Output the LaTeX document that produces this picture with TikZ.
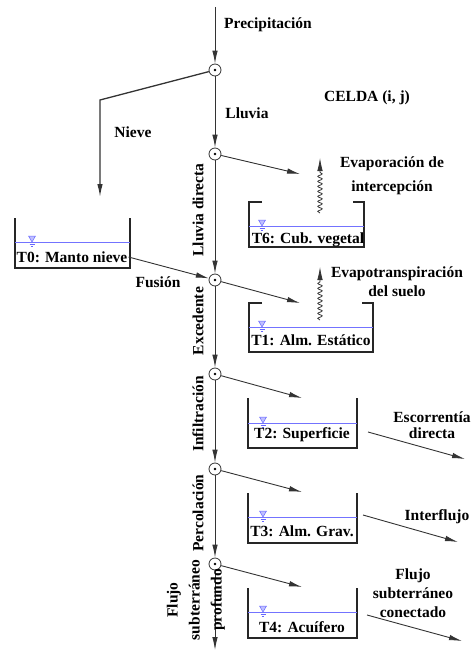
\documentclass[tikz,border=0pt]{standalone}
\usepackage{fontspec}
\setmainfont{Liberation Serif}
\usetikzlibrary{arrows.meta,decorations.pathmorphing}

\begin{document}
\begin{tikzpicture}[x=1pt,y=-1pt,->,>={Latex[length=13pt,width=5.5pt]},
  flujo/.style={color=black!80,line width=0.9pt},
  junta/.style={circle,draw=black!80,line width=0.8pt,inner sep=0pt,minimum size=12pt,
    path picture={\fill (path picture bounding box.center) circle (1.3pt);}},
  etiqueta/.style={font=\bfseries\fontsize{15.5}{17}\selectfont,align=center,inner sep=1pt},
  tanque/.style={-,draw=black!85,line width=1.8pt},
  agua/.style={-,draw=blue!55,line width=0.8pt},
  nivel/.style={-,draw=blue!60,fill=blue!25,line width=0.5pt},
  vapor/.style={draw=black!80,line width=0.8pt,decorate,
    decoration={snake,amplitude=2.2pt,segment length=5pt,post length=13pt}}]

  \useasboundingbox (0,0) rectangle (473,650);

  \node[junta] (j1) at (215,70) {};
  \node[junta] (j2) at (215,154) {};
  \node[junta] (j3) at (215,280) {};
  \node[junta] (j4) at (215,374) {};
  \node[junta] (j5) at (215,469) {};
  \node[junta] (j6) at (215,564) {};

  \coordinate (cima) at (215,7);
  \coordinate (fondo) at (215,650);
  \coordinate (codo) at (100,100);
  \coordinate (nieve) at (100,197);
  \coordinate (a6) at (300,174);
  \coordinate (a1) at (300,303);
  \coordinate (a2) at (302,398);
  \coordinate (a3) at (302,492);
  \coordinate (a4) at (302,587);
  \coordinate (s2) at (368,432);
  \coordinate (s3) at (363,515);
  \coordinate (s4) at (367,615);
  \coordinate (esc) at (465,459);
  \coordinate (inter) at (458,542);
  \coordinate (sub) at (462,641);
  \coordinate (ev6) at (320,213);
  \coordinate (ev6a) at (320,158);
  \coordinate (ev1) at (320,320);
  \coordinate (ev1a) at (320,267);

  \draw[tanque] (15,218) -- (15,268) -- (130,268) -- (130,218);
  \draw[tanque] (262,202) -- (249,202) -- (249,247) -- (364,247) -- (364,202) -- (353,202);
  \draw[tanque] (262,303) -- (249,303) -- (249,352) -- (373,352) -- (373,303) -- (362,303);
  \foreach \y in {398,493,588}
    \draw[tanque] (248,\y) -- (248,\y+50) -- (357,\y+50) -- (357,\y);

  \draw[agua] (15,242) -- (130,242);
  \draw[agua] (249,226) -- (364,226);
  \draw[agua] (249,327) -- (373,327);
  \foreach \y in {423,517,612}
    \draw[agua] (248,\y) -- (357,\y);
  \foreach \x/\y in {32/242,262/226,262/327,263/423,263/517,263/612} {
    \filldraw[nivel] (\x-3.5,\y-6) -- (\x+3.5,\y-6) -- (\x,\y) -- cycle;
    \draw[nivel] (\x-2.5,\y+2.5) -- (\x+2.5,\y+2.5);
    \draw[nivel] (\x-1.2,\y+4.5) -- (\x+1.2,\y+4.5);
  }

  \node[etiqueta] (t0) at (72,257) {T0: Manto nieve};
  \node[etiqueta] (t6) at (308,240) {T6: Cub. vegetal};
  \node[etiqueta] (t1) at (311,340) {T1: Alm. Estático};
  \node[etiqueta] (t2) at (302,435) {T2: Superficie};
  \node[etiqueta] (t3) at (302,531) {T3: Alm. Grav.};
  \node[etiqueta] (t4) at (302,627) {T4: Acuífero};

  \path[flujo]
    (cima) edge (j1)
    (j1) edge (j2)
    (j2) edge (j3)
    (j3) edge (j4)
    (j4) edge (j5)
    (j5) edge (j6)
    (j6) edge (fondo);
  \draw[flujo,line width=1.3pt] (j1) -- (codo) -- (nieve);
  \draw[flujo] (t0.east) -- (j3);
  \path[flujo]
    (j2) edge (a6)
    (j3) edge (a1)
    (j4) edge (a2)
    (j5) edge (a3)
    (j6) edge (a4)
    (s2) edge (esc)
    (s3) edge (inter)
    (s4) edge (sub);
  \draw[vapor] (ev6) -- (ev6a);
  \draw[vapor] (ev1) -- (ev1a);

  \node[etiqueta] (prec) at (268,25) {Precipitación};
  \node[etiqueta] (lluvia) at (247,113) {Lluvia};
  \node[etiqueta] (nievel) at (133,132) {Nieve};
  \node[etiqueta] (celda) at (367,98) {CELDA (i, j)};
  \node[etiqueta] (fusion) at (158,282) {Fusión};
  \node[etiqueta] (evap) at (392,176) {Evaporación de\\[7pt]intercepción};
  \node[etiqueta] (evtr) at (397,282) {Evapotranspiración\\[2pt]del suelo};
  \node[etiqueta] (escl) at (432,425) {Escorrentía\\[-1pt]directa};
  \node[etiqueta] (interl) at (437,517) {Interflujo};
  \node[etiqueta] (subl) at (413,593) {Flujo\\[2pt]subterráneo\\[2pt]conectado};

  \node[etiqueta,rotate=90] (ld) at (198,210) {Lluvia directa};
  \node[etiqueta,rotate=90] (exc) at (198,321) {Excedente};
  \node[etiqueta,rotate=90] (inf) at (198,414) {Infiltración};
  \node[etiqueta,rotate=90] (perc) at (198,513) {Percolación};
  \node[etiqueta,rotate=90] (prof) at (196,600) {Flujo\\[5pt]subterráneo\\[5pt]profundo};
\end{tikzpicture}
\end{document}
